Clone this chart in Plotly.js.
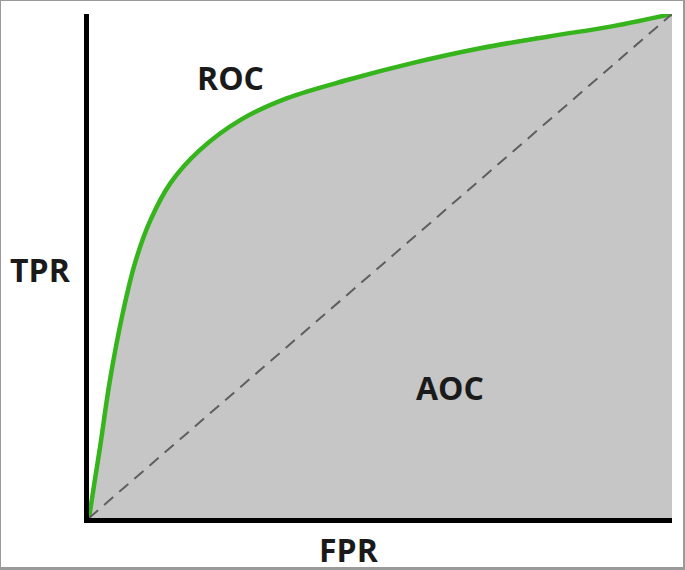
<!DOCTYPE html>
<html>
<head>
<meta charset="utf-8">
<script src="https://cdn.plot.ly/plotly-3.0.1.min.js"></script>
<style>
    html, body { margin: 0; padding: 0; background: #fff; }
    #chart { width: 685px; height: 570px; }
    #frame {
        position: absolute; left: 0; top: 0;
        width: 685px; height: 570px; box-sizing: border-box;
        border: 1px solid #9a9a9a; border-right-width: 2px; border-bottom-width: 3px;
        pointer-events: none;
    }
</style>
</head>
<body>
<div id="chart"></div>
<div id="frame"></div>
<script>
// ROC curve
const fpr = [0, 0.010, 0.019, 0.036, 0.058, 0.080, 0.105, 0.140, 0.190, 0.260, 0.340, 0.443, 0.556, 0.671, 0.786, 0.899, 1];
const tpr = [0, 0.075, 0.141, 0.274, 0.407, 0.510, 0.590, 0.665, 0.730, 0.790, 0.833, 0.869, 0.903, 0.932, 0.955, 0.976, 1];

// chance diagonal
const diagX = [0, 1];
const diagY = [0, 1];

const labels = ['ROC', 'TPR', 'AOC', 'FPR'];

const LABEL_FONT = { family: 'Open Sans, sans-serif', size: 32, color: '#1a1a1a', weight: 'bold' };

const data = [
    {
        type: 'scatter',
        mode: 'lines',
        x: fpr,
        y: tpr,
        fill: 'tozeroy',
        fillcolor: '#c6c6c6',
        line: { color: '#35b41c', width: 4.5, shape: 'spline', smoothing: 1 },
        hoverinfo: 'skip',
    },
    {
        type: 'scatter',
        mode: 'lines',
        x: diagX,
        y: diagY,
        line: { color: '#5e5e5e', width: 2, dash: '12px,8px' },
        hoverinfo: 'skip',
    },
];

const layout = {
    width: 685,
    height: 570,
    paper_bgcolor: '#ffffff',
    plot_bgcolor: '#ffffff',
    showlegend: false,
    margin: { t: 14, r: 13, b: 52, l: 89 },
    xaxis: {
        range: [0, 1],
        showgrid: false,
        zeroline: false,
        showticklabels: false,
        ticks: '',
        showline: true,
        linecolor: '#000',
        linewidth: 5,
    },
    yaxis: {
        range: [0, 1],
        showgrid: false,
        zeroline: false,
        showticklabels: false,
        ticks: '',
        showline: true,
        linecolor: '#000',
        linewidth: 5,
    },
    annotations: [
        { text: labels[0], x: 0.242, y: 0.875 },
        { text: labels[1], x: -0.084, y: 0.494 },
        { text: labels[2], x: 0.619, y: 0.258 },
        { text: labels[3], x: 0.446, y: -0.063 },
    ].map(a => ({
        ...a,
        xref: 'paper',
        yref: 'paper',
        showarrow: false,
        xanchor: 'center',
        yanchor: 'middle',
        font: LABEL_FONT,
    })),
};

Plotly.newPlot('chart', data, layout, { displayModeBar: false, staticPlot: true });
</script>
</body>
</html>
